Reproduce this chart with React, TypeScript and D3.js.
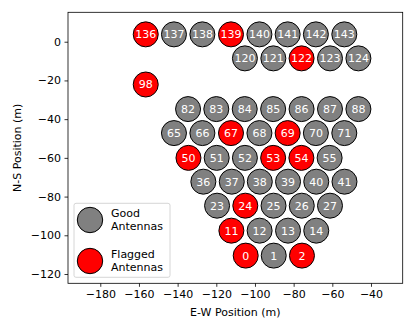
import React, { useEffect, useRef } from 'react';
import * as d3 from 'd3';

// antenna numbers, east / north positions (m)
const antIds = [136, 137, 138, 139, 140, 141, 142, 143,
  120, 121, 122, 123, 124,
  98,
  82, 83, 84, 85, 86, 87, 88,
  65, 66, 67, 68, 69, 70, 71,
  50, 51, 52, 53, 54, 55,
  36, 37, 38, 39, 40, 41,
  23, 24, 25, 26, 27,
  11, 12, 13, 14,
  0, 1, 2];
const antEast = [-156.5, -141.9, -127.2, -112.4, -97.7, -83.1, -68.5, -53.8,
  -105.2, -90.5, -75.9, -61.2, -46.5,
  -156.5,
  -134.6, -120.0, -105.3, -90.6, -75.9, -61.2, -46.5,
  -141.9, -127.2, -112.4, -97.7, -83.1, -68.5, -53.8,
  -134.4, -119.8, -105.2, -90.6, -76.0, -61.4,
  -126.7, -112.0, -97.5, -82.9, -68.3, -53.7,
  -119.6, -105.0, -90.4, -75.8, -61.2,
  -112.2, -97.6, -82.9, -68.3,
  -104.8, -90.3, -75.7];
const antNorth = [3.8, 3.8, 3.8, 3.8, 3.8, 3.8, 3.8, 3.8,
  -8.6, -8.6, -8.6, -8.6, -8.6,
  -22.1,
  -34.8, -34.8, -34.8, -34.8, -34.8, -34.8, -34.8,
  -47.2, -47.2, -47.2, -47.2, -47.2, -47.2, -47.2,
  -60.0, -60.0, -60.0, -60.0, -60.0, -60.0,
  -72.3, -72.3, -72.3, -72.3, -72.3, -72.3,
  -84.7, -84.7, -84.7, -84.7, -84.7,
  -97.6, -97.6, -97.6, -97.6,
  -110.5, -110.5, -110.5];
const flaggedIds = [136, 139, 122, 98, 67, 69, 50, 53, 54, 24, 11, 0, 2];

const xTicks = [-180, -160, -140, -120, -100, -80, -60, -40];
const yTicks = [0, -20, -40, -60, -80, -100, -120];

const W = 415, H = 332;
const FONT = 'DejaVu Sans, sans-serif';

const App = () => {
  const ref = useRef<SVGSVGElement>(null);

  useEffect(() => {
    const svg = d3.select(ref.current);
    svg.selectAll('*').remove();

    const left = 68, right = 402.7, top = 12.3, bottom = 283.3;
    const x = d3.scaleLinear().domain([-196.7, -23.6]).range([left, right]);
    const y = d3.scaleLinear().domain([-124.8, 15.2]).range([bottom, top]);

    const rPx = 12.5;

    // axes
    const xAxis = d3.axisBottom(x).tickValues(xTicks).tickSize(3.5).tickPadding(3.5)
      .tickFormat(d => d3.format('')(d as number).replace('-', '\u2212'));
    const yAxis = d3.axisLeft(y).tickValues(yTicks).tickSize(3.5).tickPadding(3.5)
      .tickFormat(d => d3.format('')(d as number).replace('-', '\u2212'));

    const gx = svg.append('g').attr('transform', `translate(0,${bottom})`).call(xAxis);
    const gy = svg.append('g').attr('transform', `translate(${left},0)`).call(yAxis);
    [gx, gy].forEach(g => {
      g.select('.domain').remove();
      g.selectAll('text').style('font-family', FONT).style('font-size', '11px').attr('fill', '#000');
      g.selectAll('line').attr('stroke', '#000').attr('stroke-width', 0.8);
    });

    const data = antIds.map((id, i) => ({ id, e: antEast[i], n: antNorth[i], flagged: flaggedIds.includes(id) }));

    const nodes = svg.append('g').selectAll('g.ant').data(data).enter().append('g')
      .attr('class', 'ant')
      .attr('transform', d => `translate(${x(d.e)},${y(d.n)})`);
    nodes.append('circle')
      .attr('r', rPx)
      .attr('fill', d => d.flagged ? '#ff0000' : '#808080')
      .attr('stroke', '#000')
      .attr('stroke-width', 1);
    nodes.append('text')
      .text(d => d.id)
      .attr('text-anchor', 'middle')
      .attr('dy', '0.36em')
      .attr('fill', '#fff')
      .style('font-family', FONT)
      .style('font-size', '11px');

    // frame
    svg.append('rect')
      .attr('x', left).attr('y', top)
      .attr('width', right - left).attr('height', bottom - top)
      .attr('fill', 'none').attr('stroke', '#000').attr('stroke-width', 0.8);

    // legend
    const lg = svg.append('g');
    lg.append('rect')
      .attr('x', 74).attr('y', 203.3).attr('width', 96).attr('height', 74)
      .attr('rx', 2)
      .attr('fill', '#fff').attr('fill-opacity', 0.8)
      .attr('stroke', '#ccc').attr('stroke-width', 0.8);
    const legendItems = [
      { color: '#808080', lines: ['Good', 'Antennas'], cy: 220 },
      { color: '#ff0000', lines: ['Flagged', 'Antennas'], cy: 261 }
    ];
    legendItems.forEach(item => {
      lg.append('circle').attr('cx', 90).attr('cy', item.cy).attr('r', 12.7)
        .attr('fill', item.color).attr('stroke', '#000').attr('stroke-width', 1);
      item.lines.forEach((t, j) => {
        lg.append('text').text(t)
          .attr('x', 111).attr('y', item.cy - 7 + j * 12.6)
          .attr('dy', '0.36em')
          .attr('fill', '#000')
          .style('font-family', FONT).style('font-size', '11px');
      });
    });

    // axis labels
    svg.append('text').text('E-W Position (m)')
      .attr('x', (left + right) / 2).attr('y', 316)
      .attr('text-anchor', 'middle')
      .style('font-family', FONT).style('font-size', '11px');
    svg.append('text').text('N-S Position (m)')
      .attr('transform', `translate(21,${(top + bottom) / 2}) rotate(-90)`)
      .attr('text-anchor', 'middle')
      .style('font-family', FONT).style('font-size', '11px');
  }, []);

  return (
    <svg ref={ref} width={W} height={H}
      style={{ position: 'absolute', left: 0, top: 0, background: '#fff' }} />
  );
};

export default App;
